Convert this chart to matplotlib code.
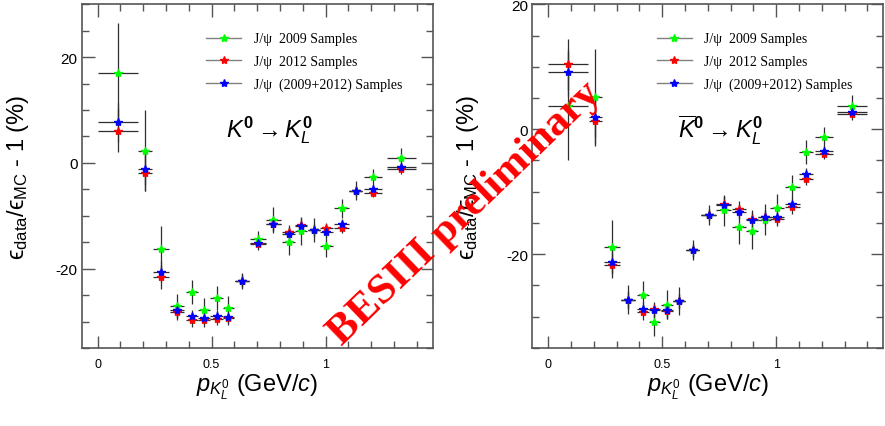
import matplotlib
matplotlib.use('Agg')
import matplotlib.pyplot as plt
from matplotlib.lines import Line2D
from matplotlib.ticker import MultipleLocator
import numpy as np

plt.rcParams['font.family'] = ['Liberation Sans', 'DejaVu Sans']
plt.rcParams['mathtext.fontset'] = 'custom'
plt.rcParams['mathtext.rm'] = 'Liberation Sans'
plt.rcParams['mathtext.it'] = 'Liberation Sans:italic'
plt.rcParams['mathtext.bf'] = 'Liberation Sans:bold'
plt.rcParams['mathtext.fallback'] = 'stixsans'
plt.rcParams['axes.unicode_minus'] = False

# bin centres and half widths (GeV/c)
p_centers = [0.088, 0.207, 0.278, 0.349, 0.414, 0.466, 0.522, 0.573, 0.633, 0.703,
             0.770, 0.838, 0.893, 0.949, 1.004, 1.070, 1.132, 1.209, 1.333]
p_halfw = [0.088, 0.03, 0.035, 0.03, 0.026, 0.026, 0.027, 0.025, 0.03, 0.035,
           0.033, 0.03, 0.027, 0.027, 0.03, 0.033, 0.03, 0.04, 0.065]

# K0 -> KL  (left)
k0_2009 = [17.0, 2.3, -16.3, -27.1, -24.4, -27.9, -25.5, -27.4, -22.3, -14.3,
           -10.8, -14.9, -12.9, -12.7, -15.7, -8.6, -5.3, -2.7, 1.0]
k0_2009_err = [9.5, 7.7, 4.3, 2.3, 2.3, 2.3, 2.3, 2.2, 1.5, 1.5,
               2.5, 2.6, 2.6, 2.3, 2.0, 1.8, 1.8, 1.6, 1.8]
k0_2012 = [6.1, -2.0, -21.6, -28.2, -29.8, -29.8, -29.5, -29.4, -22.3, -15.4,
           -11.6, -13.0, -11.8, -12.7, -12.4, -12.3, -5.3, -5.6, -1.2]
k0_2012_err = [4.0, 3.4, 2.2, 1.5, 1.2, 1.2, 1.2, 1.2, 1.2, 1.0,
               1.3, 1.3, 1.3, 1.2, 1.1, 1.0, 1.0, 0.9, 0.9]
k0_all = [7.7, -1.1, -20.6, -27.8, -28.9, -29.4, -28.9, -29.2, -22.3, -15.1,
          -11.6, -13.4, -12.0, -12.7, -13.0, -11.6, -5.3, -5.0, -0.7]
k0_all_err = [3.7, 3.0, 2.0, 1.3, 1.1, 1.1, 1.1, 1.1, 1.1, 0.9,
              1.2, 1.2, 1.2, 1.1, 1.0, 0.9, 0.9, 0.8, 0.8]

# anti-K0 -> KL  (right)
k0b_2009 = [3.7, 5.1, -18.8, -27.3, -26.6, -30.8, -28.1, -27.5, -19.4, -13.7,
            -13.0, -15.6, -16.3, -14.5, -12.6, -9.2, -3.6, -1.3, 3.7]
k0b_2009_err = [8.6, 7.8, 4.3, 2.3, 2.3, 2.3, 2.3, 2.3, 1.6, 1.6,
                2.5, 2.8, 2.8, 2.5, 2.2, 1.9, 1.9, 1.7, 1.8]
k0b_2012 = [10.4, 1.3, -21.8, -27.3, -29.3, -28.8, -29.1, -27.5, -19.4, -13.7,
            -12.0, -12.8, -14.3, -14.1, -14.4, -12.5, -7.9, -3.9, 2.4]
k0b_2012_err = [4.1, 3.7, 2.0, 1.4, 1.2, 1.2, 1.2, 1.2, 1.1, 1.0,
                1.3, 1.3, 1.3, 1.2, 1.1, 1.0, 1.0, 0.9, 0.9]
k0b_all = [9.1, 2.0, -21.2, -27.3, -28.8, -29.0, -29.0, -27.5, -19.4, -13.7,
           -12.1, -13.2, -14.5, -14.1, -14.1, -11.9, -7.1, -3.5, 2.7]
k0b_all_err = [3.8, 3.3, 1.8, 1.3, 1.1, 1.1, 1.1, 1.1, 1.0, 0.9,
               1.2, 1.2, 1.2, 1.1, 1.0, 0.9, 0.9, 0.8, 0.8]

labels = ['J/\u03c8  2009 Samples', 'J/\u03c8  2012 Samples', 'J/\u03c8  (2009+2012) Samples']
colors = ['#00ff00', '#ff0000', '#0000ff']

fig = plt.figure(figsize=(8.85, 4.27), dpi=100)
ax1 = fig.add_axes([0.0923, 0.1827, 0.3966, 0.805])
ax2 = fig.add_axes([0.6015, 0.1827, 0.3966, 0.805])

panels = [
    (ax1, [(k0_2009, k0_2009_err), (k0_2012, k0_2012_err), (k0_all, k0_all_err)], (-35, 30),
     r'$K^{\mathbf{0}} \rightarrow K^{\mathbf{0}}_{L}$'),
    (ax2, [(k0b_2009, k0b_2009_err), (k0b_2012, k0b_2012_err), (k0b_all, k0b_all_err)], (-35, 20),
     r'$\overline{K}^{\mathbf{0}} \rightarrow K^{\mathbf{0}}_{L}$'),
]

for ax, series, ylim, title in panels:
    for (vals, errs), col in zip(series, colors):
        ax.errorbar(p_centers, vals, yerr=errs, xerr=p_halfw, fmt='*', ms=6,
                    color=col, mec=col, ecolor='#2e2e2e', elinewidth=0.9, capsize=0,
                    zorder=3)
    ax.set_xlim(-0.07, 1.47)
    ax.set_ylim(*ylim)
    ax.xaxis.set_minor_locator(MultipleLocator(0.1))
    ax.yaxis.set_major_locator(MultipleLocator(20))
    ax.yaxis.set_minor_locator(MultipleLocator(5))
    ax.set_xticks([0, 0.5, 1])
    ax.set_xticklabels(['0', '0.5', '1'])
    ax.tick_params(which='both', direction='in', top=True, right=True, color='#555555')
    ax.tick_params(which='major', length=9, width=1)
    ax.tick_params(which='minor', length=5, width=1)
    ax.tick_params(axis='x', labelsize=9, pad=7)
    ax.tick_params(axis='y', labelsize=11, pad=3)
    for s in ax.spines.values():
        s.set_color('#555555')
        s.set_linewidth(1.2)
    ax.set_ylabel('$\\mathrm{\u03f5}_{\\mathrm{data}}/\\mathrm{\u03f5}_{\\mathrm{MC}}$ - 1 (%)',
                  fontsize=17)
    ax.yaxis.set_label_coords(-0.145, 0.5)
    ax.set_xlabel(r'$p_{K^0_L}$ (GeV/$c$)', fontsize=17)
    ax.xaxis.set_label_coords(0.5, -0.07)
    ax.text(0.535, 0.637, title, transform=ax.transAxes, fontsize=17,
            ha='center', va='center')
    handles = [Line2D([], [], color='#808080', lw=1, marker='*', ms=6,
                      mfc=c, mec=c) for c in colors]
    ax.legend(handles, labels, loc='upper left', bbox_to_anchor=(0.355, 0.918),
              frameon=False, borderpad=0, borderaxespad=0, numpoints=1,
              handlelength=2.5, handletextpad=0.9, labelspacing=0.68,
              prop={'family': 'Liberation Serif', 'size': 10})

fig.text(0.525, 0.5, 'BESIII preliminary', color='red', fontsize=31,
         fontweight='bold', family='Liberation Serif', rotation=44,
         ha='center', va='center', zorder=10)

fig.savefig('out.png', dpi=100)
